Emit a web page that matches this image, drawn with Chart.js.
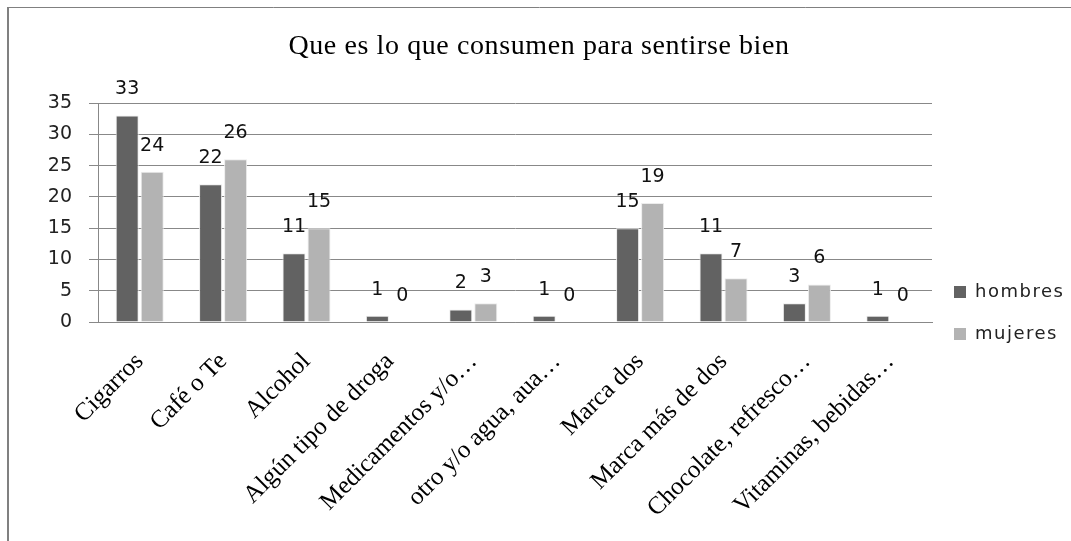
<html lang="es">
<head>
    <meta charset="utf-8" />
    <title>Que es lo que consumen para sentirse bien</title>
    <style>
        * {
  padding: 0;
  margin: 0;
  box-sizing: border-box;
}
body {
  width: 1071px;
  height: 541px;
  background: #ffffff;
  overflow: hidden;
}
.wrapper {
  position: relative;
  width: 1071px;
  height: 541px;
}
    </style>
  </head>
  <body>
    <div class="wrapper">
      <canvas id="chart" width="1071" height="541"></canvas>
    </div>
    <script src="https://cdn.jsdelivr.net/npm/chart.js@4.4.1/dist/chart.umd.min.js"></script>
<script>
    // Chart title
    const chartTitle = "Que es lo que consumen para sentirse bien";

    // Categories shown on the x axis
    const categories = [
        "Cigarros",
        "Café o Te",
        "Alcohol",
        "Algún tipo de droga",
        "Medicamentos y/o…",
        "otro y/o agua, aua…",
        "Marca dos",
        "Marca más de dos",
        "Chocolate, refresco…",
        "Vitaminas, bebidas…",
    ];

    // Series values
    const hombres = [33, 22, 11, 1, 2, 1, 15, 11, 3, 1];
    const mujeres = [24, 26, 15, 0, 3, 0, 19, 7, 6, 0];

    // Series names
    const seriesNames = ["hombres", "mujeres"];

    // Y axis ticks
    const yTicks = [0, 5, 10, 15, 20, 25, 30, 35];

    const gridColor = "#888888";

    // Outer frame, title, value labels and legend
    const decorPlugin = {
        id: "decor",
        beforeDraw(chart) {
            const ctx = chart.ctx;
            ctx.save();
            ctx.strokeStyle = "#808080";
            ctx.lineWidth = 2;
            ctx.beginPath();
            ctx.moveTo(8, 541);
            ctx.lineTo(8, 7);
            ctx.stroke();
            ctx.lineWidth = 1;
            ctx.beginPath();
            ctx.moveTo(8, 7.5);
            ctx.lineTo(1071, 7.5);
            ctx.stroke();
            ctx.restore();
        },
        afterDraw(chart) {
            const ctx = chart.ctx;
            ctx.save();
            // title
            ctx.fillStyle = "#000000";
            ctx.font = "28px 'Liberation Serif', serif";
            ctx.letterSpacing = "0.6px";
            ctx.textAlign = "center";
            ctx.textBaseline = "middle";
            ctx.fillText(chartTitle, 539, 47);

            // value labels over the bars
            ctx.letterSpacing = "0px";
            ctx.font = "19px 'DejaVu Sans', sans-serif";
            ctx.fillStyle = "#111111";
            chart.data.datasets.forEach((ds, i) => {
                const meta = chart.getDatasetMeta(i);
                meta.data.forEach((bar, j) => {
                    ctx.fillText(String(ds.data[j]), bar.x, bar.y - 26);
                });
            });

            // legend
            ctx.font = "18px 'DejaVu Sans', sans-serif";
            ctx.letterSpacing = "1.5px";
            ctx.textAlign = "left";
            chart.data.datasets.forEach((ds, i) => {
                const y = 292 + i * 42;
                ctx.fillStyle = ds.backgroundColor;
                ctx.fillRect(954, y - 6, 12, 12);
                ctx.fillStyle = "#222222";
                ctx.fillText(ds.label, 975, y);
            });
            ctx.restore();
        },
    };

    const chart = new Chart(document.getElementById("chart"), {
        type: "bar",
        plugins: [decorPlugin],
        data: {
            labels: categories,
            datasets: [
                {
                    label: seriesNames[0],
                    data: hombres,
                    backgroundColor: "#626262",
                    borderColor: "#ececec",
                    borderWidth: 1,
                    categoryPercentage: 0.6,
                    barPercentage: 0.92,
                },
                {
                    label: seriesNames[1],
                    data: mujeres,
                    backgroundColor: "#b3b3b3",
                    borderColor: "#ececec",
                    borderWidth: 1,
                    categoryPercentage: 0.6,
                    barPercentage: 0.92,
                },
            ],
        },
        options: {
            responsive: false,
            animation: false,
            layout: {
                padding: { left: 20, right: 139, top: 103, bottom: 0 },
            },
            plugins: {
                legend: { display: false },
                tooltip: { enabled: false },
                title: { display: false },
            },
            scales: {
                x: {
                    grid: { display: false },
                    border: { display: true, color: gridColor, width: 1 },
                    ticks: {
                        minRotation: 45,
                        maxRotation: 45,
                        padding: 17,
                        autoSkip: false,
                        color: "#000000",
                        font: { family: "'Liberation Serif', serif", size: 25 },
                    },
                    afterFit(scale) {
                        scale.height = 219;
                    },
                },
                y: {
                    min: 0,
                    max: 35,
                    afterBuildTicks(scale) {
                        scale.ticks = yTicks.map((v) => ({ value: v }));
                    },
                    grid: {
                        color: gridColor,
                        tickLength: 9,
                    },
                    border: { display: true, color: gridColor, width: 1 },
                    ticks: {
                        padding: 17,
                        color: "#222222",
                        font: { family: "'DejaVu Sans', sans-serif", size: 19 },
                    },
                    afterFit(scale) {
                        scale.width = 78;
                    },
                },
            },
        },
    });
</script>
</body>
</html>
